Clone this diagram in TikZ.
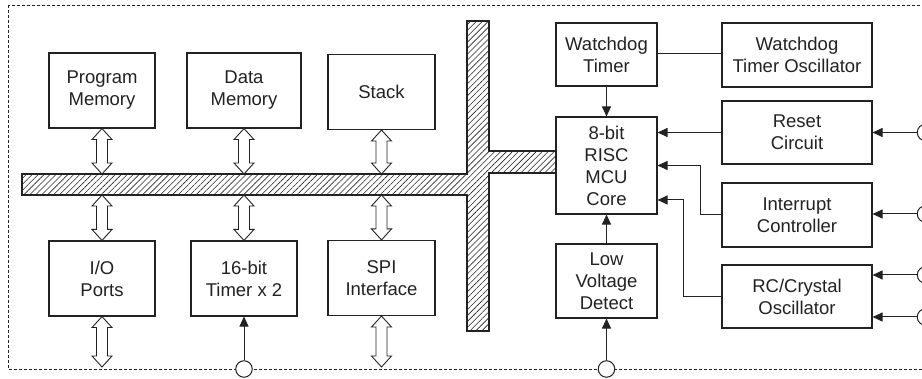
\documentclass[tikz,border=0pt]{standalone}
\usepackage{fontspec}
\setmainfont{Liberation Sans}
\usetikzlibrary{arrows.meta,patterns.meta,calc}
\definecolor{ink}{HTML}{222222}
\newcommand\dblarr[2]{%
  \draw[darr] let \p1=(#1), \p2=(#2) in
    (\x1,\y1) -- (\x1+10pt,\y1-11pt) -- (\x1+5.5pt,\y1-11pt) -- (\x1+5.5pt,\y2+11pt)
    -- (\x1+10pt,\y2+11pt) -- (\x1,\y2) -- (\x1-10pt,\y2+11pt) -- (\x1-5.5pt,\y2+11pt)
    -- (\x1-5.5pt,\y1-11pt) -- (\x1-10pt,\y1-11pt) -- cycle;}
\begin{document}
\begin{tikzpicture}[x=1pt,y=-1pt,
  blk/.style={draw=ink,line width=1.1pt,fill=white,align=center,inner sep=0pt,
    font=\fontsize{18.5}{22}\selectfont,text=ink},
  darr/.style={draw=ink,line width=0.9pt,fill=white},
  conn/.style={draw=ink,line width=1pt},
  tip/.style={conn,-{Triangle[length=10pt,width=9pt]}},
  pin/.style={circle,draw=ink,line width=1pt,fill=white,minimum size=16.5pt,inner sep=0pt}]
\useasboundingbox (0,0) rectangle (922,379);
% dashed border
\draw[ink,line width=0.8pt,dash pattern=on 3pt off 2pt] (8,5) rectangle (925,369);
% bus
\draw[ink,line width=1.1pt,pattern={Lines[angle=45,distance=4.2pt,line width=0.6pt]},pattern color=ink]
  (22,174) -- (467,174) -- (467,21) -- (489,21) -- (489,151) -- (556,151)
  -- (556,173) -- (489,173) -- (489,331) -- (467,331) -- (467,195) -- (22,195) -- cycle;
\coordinate (busT1) at (102,174); \coordinate (busB1) at (102,195);
\coordinate (busT2) at (244,174); \coordinate (busB2) at (244,195);
\coordinate (busT3) at (381.5,174); \coordinate (busB3) at (381.5,195);
\coordinate (io2) at (102,367); \coordinate (spi2) at (381.5,367);
% blocks
\node[blk,minimum width=106pt,minimum height=75pt] (pm) at (102,90.5) {Program\\Memory};
\node[blk,minimum width=114pt,minimum height=75pt] (dm) at (244,90.5) {Data\\Memory};
\node[blk,minimum width=107pt,minimum height=75pt] (st) at (381.5,92) {Stack};
\node[blk,minimum width=106pt,minimum height=75pt] (io) at (102,278.5) {I/O\\Ports};
\node[blk,minimum width=106pt,minimum height=75pt] (tm) at (244,278.5) {16-bit\\Timer x 2};
\node[blk,minimum width=107pt,minimum height=75pt] (spi) at (381.5,278) {SPI\\Interface};
\node[blk,minimum width=101pt,minimum height=63pt] (wdt) at (606.5,54.5) {Watchdog\\Timer};
\node[blk,minimum width=150pt,minimum height=64pt] (wdo) at (797,55) {Watchdog\\Timer Oscillator};
\node[blk,minimum width=101pt,minimum height=97pt] (mcu) at (606.5,165.5) {8-bit\\RISC\\MCU\\Core};
\node[blk,minimum width=150pt,minimum height=63pt] (rst) at (797,132.5) {Reset\\Circuit};
\node[blk,minimum width=150pt,minimum height=64pt] (irq) at (797,215) {Interrupt\\Controller};
\node[blk,minimum width=150pt,minimum height=63pt] (osc) at (797,296.5) {RC/Crystal\\Oscillator};
\node[blk,minimum width=101pt,minimum height=74pt] (lvd) at (606.5,281) {Low\\Voltage\\Detect};
% double arrows
\dblarr{pm.south}{busT1}
\dblarr{dm.south}{busT2}
\dblarr{st.south}{busT3}
\dblarr{busB1}{io.north}
\dblarr{busB2}{tm.north}
\dblarr{busB3}{spi.north}
\dblarr{io.south}{io2}
\dblarr{spi.south}{spi2}
% pins
\node[pin] (ptm) at (244,369) {};
\node[pin] (plvd) at (606.5,369) {};
\node[pin] (prst) at (925.5,132.5) {};
\node[pin] (pirq) at (925.5,214) {};
\node[pin] (posc1) at (925.5,275) {};
\node[pin] (posc2) at (925.5,317) {};
% connectors
\draw[conn] (wdt.east |- 0,54) -- (wdo.west |- 0,54);
\draw[tip] (wdt.south) -- (mcu.north);
\draw[tip] (rst.west) -- (rst.west -| mcu.east);
\draw[tip] (irq.west) -- (700,215) |- (mcu.east);
\draw[tip] (osc.west) -- (683,296.5) |- (mcu.east |- 0,200);
\draw[tip] (lvd.north) -- (mcu.south);
\draw[tip] (plvd) -- (lvd.south);
\draw[tip] (ptm) -- (tm.south);
\draw[tip] (prst) -- (rst.east);
\draw[tip] (pirq) -- (pirq -| irq.east);
\draw[tip] (posc1) -- (posc1 -| osc.east);
\draw[tip] (posc2) -- (posc2 -| osc.east);
\end{tikzpicture}
\end{document}
